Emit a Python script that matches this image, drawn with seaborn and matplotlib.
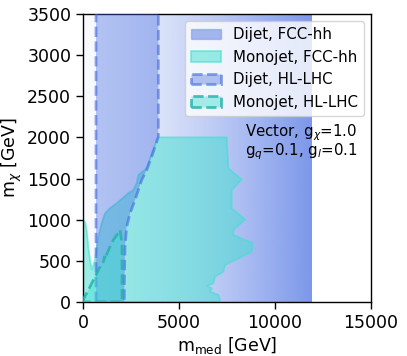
import numpy as np
import matplotlib
matplotlib.use("Agg")
import matplotlib.pyplot as plt
import seaborn as sns
from matplotlib.colors import to_rgb
from matplotlib.patches import Patch

# exclusion regions, (m_med, m_chi) in GeV
dijet_fcc_med = [0, 11900]
dijet_fcc_chi = [0, 3500]

monojet_fcc_med = [0, 0, 120, 190, 277, 365, 453, 625, 797, 972, 1146, 1406, 1753,
                   2350, 2620, 2795, 2882, 3316, 3575, 3922, 7483, 7569, 8264, 7743,
                   7743, 8438, 7830, 7830, 8837, 8785, 7396, 7309, 6875, 6788, 6441,
                   6701, 6615, 7049, 7135, 7135]
monojet_fcc_chi = [0, 1000, 960, 870, 672, 510, 389, 510, 794, 956, 1077, 1140, 1200,
                   1320, 1360, 1443, 1543, 1624, 1800, 2001, 2001, 1623, 1489, 1361,
                   1138, 1004, 875, 814, 713, 611, 450, 369, 308, 227, 198,
                   166, 125, 85, 24, 0]

# upper edge of the dijet HL-LHC band runs off the top of the plot
dijet_hl_med = [677, 677, 3922, 3922, 3575, 3316, 3056, 2708, 2448, 2274, 2187, 2153, 2150]
dijet_hl_chi = [0, 3600, 3600, 2009, 1766, 1604, 1483, 1240, 1077, 915, 672, 267, 0]

monojet_hl_med = [0, 52, 365, 712, 972, 1060, 1146, 1120, 1406, 1580, 1753, 1840, 1927,
                  1979, 2031, 2031]
monojet_hl_chi = [0, 49, 186, 348, 470, 490, 560, 520, 672, 753, 814, 830, 875,
                  794, 700, 0]

x_ticks = [0, 5000, 10000, 15000]
y_ticks = [0, 500, 1000, 1500, 2000, 2500, 3000, 3500]

sns.set_style("ticks", {"axes.edgecolor": "black", "xtick.color": "black",
                        "ytick.color": "black", "text.color": "black",
                        "axes.labelcolor": "black"})
plt.rcParams['font.family'] = ['DejaVu Sans']

fig = plt.figure(figsize=(4.07, 3.56), dpi=100)
ax = fig.add_axes([0.204, 0.1517, 0.7076, 0.809])

# dijet FCC-hh: blue band fading in from the left
ramp = np.linspace(0, 1, 256) ** 1.3
rgba = np.zeros((1, 256, 4))
rgba[..., :3] = to_rgb('royalblue')
rgba[..., 3] = 0.03 + 0.66 * ramp
ax.imshow(rgba, extent=[dijet_fcc_med[0], dijet_fcc_med[1], dijet_fcc_chi[0], dijet_fcc_chi[1]],
          aspect='auto', interpolation='bilinear', zorder=1)

ax.fill(monojet_fcc_med, monojet_fcc_chi, facecolor=(*to_rgb('turquoise'), 0.5),
        edgecolor=(*to_rgb('turquoise'), 0.6), linewidth=1.3, zorder=2)
ax.fill(dijet_hl_med, dijet_hl_chi, facecolor=(*to_rgb('royalblue'), 0.38),
        edgecolor=(*to_rgb('royalblue'), 0.6), linestyle='--', linewidth=2, zorder=3)
ax.fill(monojet_hl_med, monojet_hl_chi, facecolor=(*to_rgb('turquoise'), 0.45),
        edgecolor=(*to_rgb('lightseagreen'), 0.8), linestyle='--', linewidth=2, zorder=4)

handles = [
    Patch(facecolor=(*to_rgb('royalblue'), 0.45), edgecolor=(*to_rgb('royalblue'), 0.3),
          label='Dijet, FCC-hh'),
    Patch(facecolor=(*to_rgb('turquoise'), 0.5), edgecolor=(*to_rgb('turquoise'), 0.6),
          linewidth=1.3, label='Monojet, FCC-hh'),
    Patch(facecolor=(*to_rgb('royalblue'), 0.38), edgecolor=(*to_rgb('royalblue'), 0.6),
          linestyle='--', linewidth=2, label='Dijet, HL-LHC'),
    Patch(facecolor=(*to_rgb('turquoise'), 0.45), edgecolor=(*to_rgb('lightseagreen'), 0.8),
          linestyle='--', linewidth=2, label='Monojet, HL-LHC'),
]
ax.legend(handles=handles, loc='upper right', fontsize=10.8)

ax.text(8450, 2019, r'Vector, g$_\chi$=1.0', fontsize=10.8, va='baseline', zorder=6)
ax.text(8450, 1778, r'g$_q$=0.1, g$_l$=0.1', fontsize=10.8, va='baseline', zorder=6)

ax.set_xlim(0, 15000)
ax.set_ylim(0, 3500)
ax.set_xticks(x_ticks)
ax.set_yticks(y_ticks)
ax.tick_params(labelsize=12.5, length=5, width=1)
ax.set_xlabel(r'm$_{\rm med}$ [GeV]', fontsize=12.5, labelpad=2)
ax.set_ylabel(r'm$_\chi$ [GeV]', fontsize=12.5, labelpad=2)
for s in ax.spines.values():
    s.set_linewidth(1)

fig.savefig('out.png', dpi=100)
